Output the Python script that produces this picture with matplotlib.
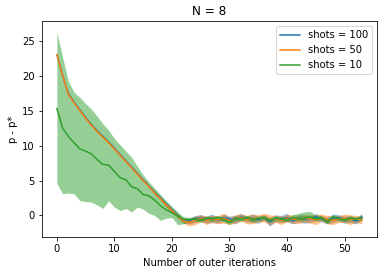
import numpy as np
import matplotlib.pyplot as plt

iters = np.arange(54)

# mean of p - p* per outer iteration
shots100 = [23.0, 20.0, 17.4, 16.2, 15.1, 14.0, 13.0, 12.1, 11.3, 10.5, 9.6, 8.7, 7.8, 6.9, 6.0, 5.1, 4.2, 3.3, 2.5, 1.6, 0.8, 0.0, -0.8,
            -0.8, -0.5, -0.3, -0.6, -0.4, -0.7, -0.3, -0.5, -0.6, -0.2, -0.5, -0.4, -0.6, -0.3, -0.9, -0.4,
            -0.5, -0.3, -0.8, -0.4, -0.5, -0.6, -0.2, -0.5, -0.7, -0.4, -0.3, -0.6, -0.5, -0.8, -0.2]
shots50 = [23.0, 20.0, 17.3, 16.1, 15.0, 13.9, 12.9, 12.0, 11.2, 10.4, 9.5, 8.6, 7.7, 6.8, 5.9, 5.0, 4.1, 3.2, 2.4, 1.5, 0.7, -0.1, -0.8,
           -1.0, -0.7, -0.4, -0.7, -0.5, -0.6, -0.4, -0.8, -0.5, -0.3, -0.6, -0.5, -0.4, -0.3, -0.6, -0.5,
           -0.7, -0.4, -0.5, -0.6, -0.4, -0.5, -0.6, -0.3, -0.6, -0.7, -0.5, -0.4, -0.6, -0.5, -0.6]
shots10 = [15.3, 12.5, 11.3, 10.4, 9.5, 9.2, 8.8, 8.0, 7.3, 7.2, 6.3, 5.4, 5.1, 4.1, 3.8, 3.0, 2.8, 2.2, 1.4, 0.8, 0.4, -0.1, -0.5,
           -0.6, -0.5, -0.7, -0.4, -0.5, -0.3, -0.6, -1.0, -0.4, -0.5, -0.3, -0.6, -0.4, -0.3, -0.7, -0.4,
           -0.5, -0.6, -0.3, -0.5, -0.4, -0.2, -0.5, -0.3, -0.9, -0.2, -0.5, -0.6, -0.4, -0.5, -0.4]

# spread of the shaded bands
spread100 = [0.1, 0.1, 0.1, 0.1, 0.1, 0.1, 0.1, 0.1, 0.1, 0.1, 0.1, 0.1, 0.1, 0.1, 0.1, 0.1, 0.15, 0.2, 0.25, 0.3, 0.3, 0.3, 0.3,
             0.4, 0.5, 0.4, 0.5, 0.6, 0.4, 0.5, 0.4, 0.6, 0.5, 0.4, 0.6, 0.5, 0.4, 0.6, 0.5,
             0.5, 0.6, 0.4, 0.5, 0.6, 0.4, 0.5, 0.4, 0.5, 0.6, 0.4, 0.5, 0.5, 0.4, 0.5]
spread50 = [0.1, 0.1, 0.1, 0.1, 0.1, 0.1, 0.1, 0.1, 0.1, 0.1, 0.1, 0.1, 0.1, 0.1, 0.1, 0.1, 0.15, 0.2, 0.25, 0.3, 0.3, 0.3, 0.3,
            0.5, 0.6, 0.5, 0.6, 0.5, 0.6, 0.7, 0.5, 0.6, 0.5, 0.6, 0.7, 0.5, 0.6, 0.7, 0.5,
            0.6, 0.5, 0.6, 0.6, 0.5, 0.6, 0.7, 0.5, 0.6, 0.6, 0.5, 0.6, 0.7, 0.5, 0.6]
upper10 = [26.2, 22.6, 19.2, 17.6, 16.9, 16.0, 15.2, 14.2, 13.1, 12.2, 11.0, 10.1, 9.2, 8.3, 7.0, 5.8, 4.8, 3.9, 3.0, 2.1, 1.3, 0.5, -0.2,
           -0.3, -0.2, -0.4, -0.1, -0.2, 0.0, -0.3, -0.7, -0.1, -0.2, 0.0, -0.3, -0.1, 0.0, -0.4, -0.1,
           -0.2, -0.3, 0.1, 0.3, 0.5, 0.6, 0.0, -0.0, -0.6, 0.1, -0.2, -0.3, -0.1, -0.2, -0.1]
lower10 = [4.6, 3.1, 3.2, 3.1, 2.1, 2.0, 1.9, 1.5, 1.0, 2.1, 1.2, 0.7, 1.0, 0.5, 1.2, 0.9, 0.3, 0.0, -0.7, -0.4, -0.3, -1.3, -1.2,
           -0.9, -0.8, -1.0, -0.7, -0.8, -0.6, -0.9, -1.3, -0.7, -0.8, -0.6, -0.9, -0.7, -0.6, -1.0, -0.7,
           -0.8, -0.9, -0.6, -0.8, -0.7, -0.5, -0.8, -0.6, -1.2, -0.5, -0.8, -0.9, -0.7, -0.8, -0.7]

fig = plt.figure(figsize=(382/72, 278/72), dpi=72)
ax = fig.add_axes([0.109, 0.147, 0.878, 0.777])

m100 = np.array(shots100)
m50 = np.array(shots50)
s100 = np.array(spread100)
s50 = np.array(spread50)

ax.plot(iters, m100, color="tab:blue", label="shots = 100")
ax.fill_between(iters, m100 - s100, m100 + s100, color="tab:blue", alpha=0.5, linewidth=0)
ax.plot(iters, m50, color="tab:orange", label="shots = 50")
ax.fill_between(iters, m50 - s50, m50 + s50, color="tab:orange", alpha=0.5, linewidth=0)
ax.plot(iters, shots10, color="tab:green", label="shots = 10")
ax.fill_between(iters, lower10, upper10, color="tab:green", alpha=0.5, linewidth=0)

ax.set_xticks([0, 10, 20, 30, 40, 50])
ax.set_yticks([0, 5, 10, 15, 20, 25])
ax.set_ylim(-3.1, 27.8)
ax.set_xlabel("Number of outer iterations")
ax.set_ylabel("p - p*")
ax.set_title("N = 8")
ax.legend(loc="upper right")

fig.savefig("out.png", dpi=72)
